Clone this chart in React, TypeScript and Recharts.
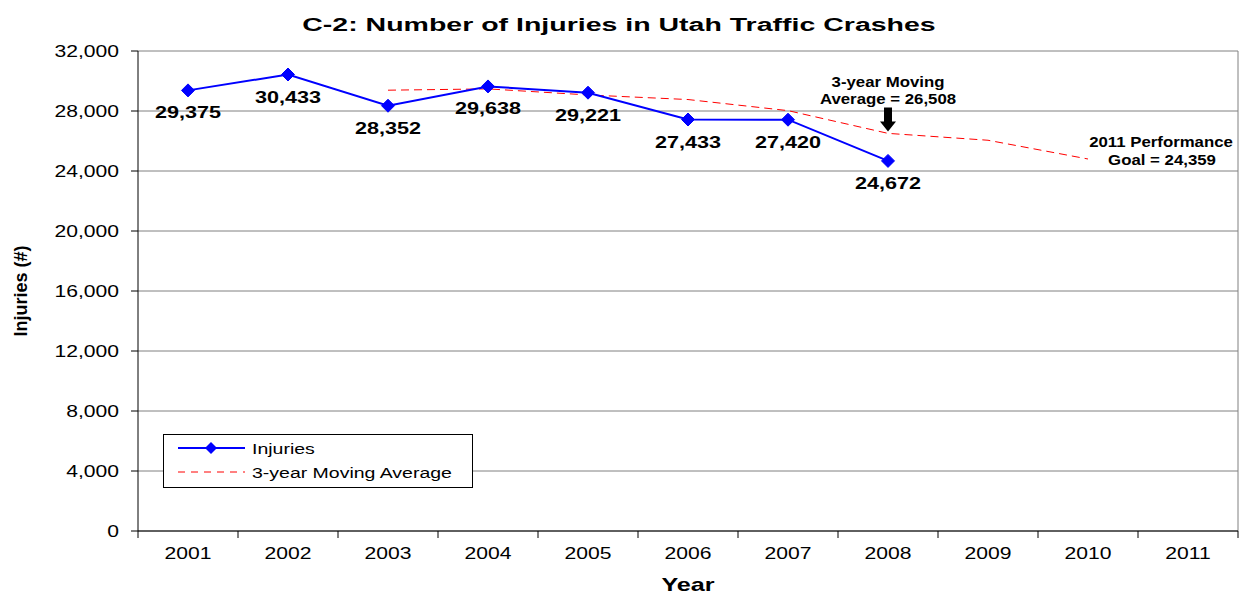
import React from 'react';
import {
  LineChart,
  Line,
  XAxis,
  YAxis,
  CartesianGrid,
  LabelList,
  ReferenceDot
} from 'recharts';

const years = ['2001', '2002', '2003', '2004', '2005', '2006', '2007', '2008', '2009', '2010', '2011'];
const injuries = [29375, 30433, 28352, 29638, 29221, 27433, 27420, 24672, null, null, null];
const movingAvg = [null, null, 29387, 29474, 29070, 28764, 28025, 26508, 26050, 24800, null];
const yTicks = [0, 4000, 8000, 12000, 16000, 20000, 24000, 28000, 32000];

const data = years.map((year, i) => ({ year, injuries: injuries[i], avg: movingAvg[i] }));

const FONT = '"Liberation Sans", Arial, sans-serif';
const W = 1242;
const H = 595;
const X_AXIS_H = 64;
const Y_AXIS_W = 138;
// axis sizes are added on top of the margin by recharts
const M = { top: 51, right: 4, bottom: 0, left: 0 };
const band = (W - M.left - M.right - Y_AXIS_W) / years.length;

const fmt = (v: number) => v.toLocaleString('en-US');

// the reference is stretched sideways, so text is scaled on x about its anchor
const SText = ({ x, y, k = 1.32, anchor = 'middle', size = 16, bold = false, children }: any) => (
  <g transform={`translate(${x},${y}) scale(${k},1)`}>
    <text
      x={0}
      y={0}
      textAnchor={anchor}
      fontFamily={FONT}
      fontSize={size}
      fontWeight={bold ? 'bold' : 'normal'}
      fill="#000"
    >
      {children}
    </text>
  </g>
);

const Diamond = (props: any) => {
  const { cx, cy } = props;
  if (cx == null || cy == null) return null;
  const r = 6.5;
  return (
    <polygon
      points={`${cx},${cy - r} ${cx + r},${cy} ${cx},${cy + r} ${cx - r},${cy}`}
      fill="#0000FF"
      stroke="#0000FF"
    />
  );
};

const XTick = (props: any) => {
  const { x, y, payload, index } = props;
  const last = index === years.length - 1;
  return (
    <g>
      <line x1={x - band / 2} x2={x - band / 2} y1={y} y2={y + 7} stroke="#000" />
      {last && <line x1={x + band / 2} x2={x + band / 2} y1={y} y2={y + 7} stroke="#000" />}
      <SText x={x} y={y + 28} size={16}>{payload.value}</SText>
    </g>
  );
};

const YTick = (props: any) => {
  const { x, y, payload } = props;
  return (
    <SText x={x} y={y + 6} anchor="end" size={16}>
      {fmt(payload.value)}
    </SText>
  );
};

const PointLabel = (props: any) => {
  const { x, y, value } = props;
  if (value == null) return null;
  return (
    <SText x={x} y={y + 28} size={16} bold k={1.35}>
      {fmt(value)}
    </SText>
  );
};

const AvgNote = (props: any) => {
  const { cx, cy } = props;
  return (
    <g>
      <SText x={cx} y={cy - 46} size={14} bold k={1.2}>3-year Moving</SText>
      <SText x={cx} y={cy - 29} size={14} bold k={1.2}>Average = 26,508</SText>
      <polygon
        points={`${cx - 4},${cy - 26} ${cx + 4},${cy - 26} ${cx + 4},${cy - 12} ${cx + 8},${cy - 12} ${cx},${cy - 2} ${cx - 8},${cy - 12} ${cx - 4},${cy - 12}`}
        fill="#000"
      />
    </g>
  );
};

const GoalNote = (props: any) => {
  const { cx, cy } = props;
  return (
    <g>
      <SText x={cx - 27} y={cy - 19} size={14} bold k={1.2}>2011 Performance</SText>
      <SText x={cx - 26} y={cy - 1} size={14} bold k={1.2}>Goal = 24,359</SText>
    </g>
  );
};

const Overlay = () => (
  <svg width={W} height={H} style={{ position: 'absolute', left: 0, top: 0, pointerEvents: 'none' }}>
    <SText x={619} y={31} size={19} bold k={1.5}>
      C-2: Number of Injuries in Utah Traffic Crashes
    </SText>
    <g>
      <rect x={163.5} y={434.5} width={309} height={53} fill="#fff" stroke="#000" />
      <line x1={178} x2={245} y1={448} y2={448} stroke="#0000FF" strokeWidth={2} />
      <polygon points="211,442 217,448 211,454 205,448" fill="#0000FF" />
      <line x1={178} x2={245} y1={472} y2={472} stroke="#FF0000" strokeWidth={1} strokeDasharray="7 6" />
      <SText x={252} y={454} anchor="start" size={15} k={1.3}>Injuries</SText>
      <SText x={252} y={478} anchor="start" size={15} k={1.3}>3-year Moving Average</SText>
    </g>
  </svg>
);

export default function App() {
  return (
    <div style={{ position: 'absolute', left: 0, top: 0, width: W, height: H, background: '#fff' }}>
      <LineChart width={W} height={H} data={data} margin={M}>
        <CartesianGrid
          stroke="#808080"
          vertical={true}
          verticalCoordinatesGenerator={({ offset }: any) => [offset.left + offset.width]}
        />
        <XAxis
          dataKey="year"
          tick={<XTick />}
          tickLine={false}
          tickSize={0}
          tickMargin={0}
          padding={{ left: band / 2, right: band / 2 }}
          axisLine={{ stroke: '#000' }}
          height={X_AXIS_H}
          interval={0}
          label={(p: any) => (
            <SText x={p.viewBox.x + p.viewBox.width / 2} y={p.viewBox.y + 60} size={18} bold k={1.4}>
              Year
            </SText>
          )}
        />
        <YAxis
          width={Y_AXIS_W}
          domain={[0, 32000]}
          ticks={yTicks}
          interval={0}
          tick={<YTick />}
          tickSize={7}
          tickMargin={12}
          tickLine={{ stroke: '#000' }}
          axisLine={{ stroke: '#000' }}
          label={(p: any) => (
            <text
              x={22}
              y={p.viewBox.y + p.viewBox.height / 2}
              transform={`rotate(-90 22 ${p.viewBox.y + p.viewBox.height / 2})`}
              textAnchor="middle"
              dominantBaseline="middle"
              fontFamily={FONT}
              fontWeight="bold"
              fontSize={18}
              fill="#000"
            >
              Injuries (#)
            </text>
          )}
        />
        <Line
          name="3-year Moving Average"
          dataKey="avg"
          stroke="#FF0000"
          strokeWidth={1}
          strokeDasharray="8 5"
          dot={false}
          activeDot={false}
          isAnimationActive={false}
        />
        <Line
          name="Injuries"
          dataKey="injuries"
          stroke="#0000FF"
          strokeWidth={2}
          dot={<Diamond />}
          activeDot={false}
          isAnimationActive={false}
        >
          <LabelList dataKey="injuries" content={<PointLabel />} />
        </Line>
        <ReferenceDot x="2008" y={26508} r={0} shape={<AvgNote />} />
        <ReferenceDot x="2011" y={24359} r={0} shape={<GoalNote />} />
      </LineChart>
      <Overlay />
    </div>
  );
}
